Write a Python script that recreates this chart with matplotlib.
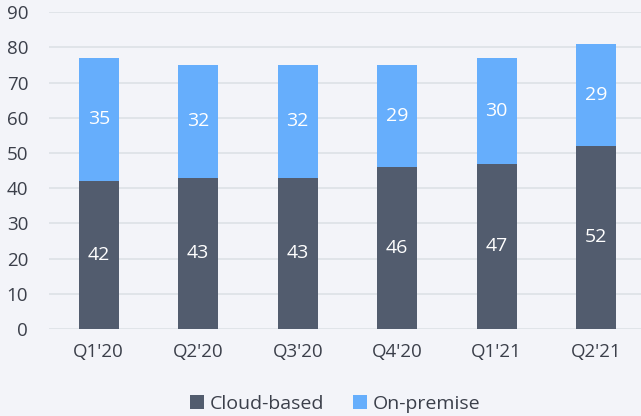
import matplotlib.pyplot as plt
import numpy as np

# Dados do gráfico
quarters = ["Q1'20", "Q2'20", "Q3'20", "Q4'20", "Q1'21", "Q2'21"]
cloud = [42, 43, 43, 46, 47, 52]
on_premise = [35, 32, 32, 29, 30, 29]

bg = "#f3f4f9"
dark = "#525c6e"
blue = "#66aefc"
text_color = "#3b3f4a"

plt.rcParams['font.family'] = ['Open Sans', 'DejaVu Sans']

fig = plt.figure(figsize=(6.41, 4.16), dpi=100, facecolor=bg)
ax = fig.add_axes([0.0764, 0.209, 0.9236, 0.762], facecolor=bg)

x = np.arange(len(quarters))
width = 0.4
ax.bar(x, cloud, width, color=dark, label="Cloud-based", zorder=3)
ax.bar(x, on_premise, width, bottom=cloud, color=blue, label="On-premise", zorder=3)

# Rótulos dentro das barras
for i in range(len(quarters)):
    ax.text(x[i], cloud[i] / 2, str(cloud[i]), ha='center', va='center',
            color='white', fontsize=14)
    ax.text(x[i], cloud[i] + on_premise[i] / 2, str(on_premise[i]), ha='center',
            va='center', color='white', fontsize=14)

ax.set_ylim(0, 90)
ax.set_yticks(range(0, 91, 10))
ax.set_xlim(-0.5, 5.45)
ax.set_xticks(x)
ax.set_xticklabels(quarters)
ax.tick_params(axis='both', length=0, labelsize=13.5, colors=text_color)
ax.tick_params(axis='x', pad=10)
ax.tick_params(axis='y', pad=15)
ax.grid(axis='y', color="#dde1e6", linewidth=1.2, zorder=0)
for s in ax.spines.values():
    s.set_visible(False)

fig.legend(loc='lower center', bbox_to_anchor=(0.523, -0.035), ncol=2, frameon=False,
           fontsize=14, labelcolor=text_color, handlelength=0.7, handleheight=0.7,
           handletextpad=0.3, columnspacing=1.5)

fig.savefig("out.png", dpi=100, facecolor=bg)
